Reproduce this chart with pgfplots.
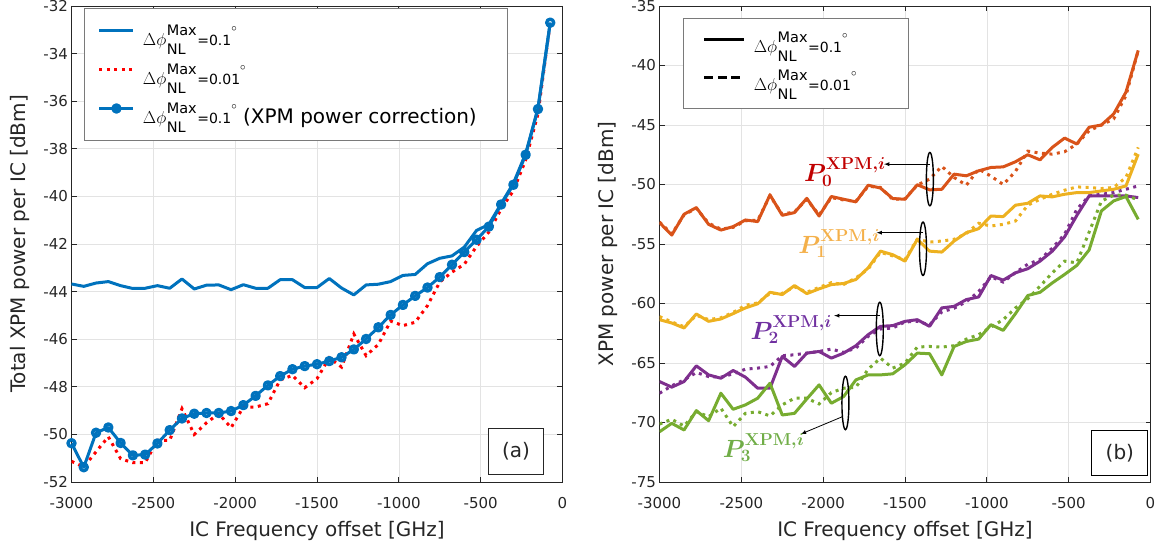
\documentclass[border=0pt]{standalone}
\usepackage[no-math]{fontspec}
\setmainfont{DejaVu Sans}
\usepackage{bm}
\usepackage{pgfplots}
\usepackage{pgfplotstable}
\pgfplotsset{compat=1.18}
\usetikzlibrary{shapes.geometric}

\definecolor{mblue}{HTML}{0072BD}
\definecolor{morange}{HTML}{D95319}
\definecolor{myellow}{HTML}{EDB120}
\definecolor{mpurple}{HTML}{7E2F8E}
\definecolor{mgreen}{HTML}{77AC30}
\definecolor{axgray}{HTML}{262626}
\definecolor{gridgray}{HTML}{E3E3E3}
\definecolor{legframe}{HTML}{7A7A7A}
\definecolor{lblred}{HTML}{C00000}
\definecolor{lblyellow}{HTML}{F4B04A}
\definecolor{lblpurple}{HTML}{7030A0}
\definecolor{lblgreen}{HTML}{70AD47}

\tikzset{myarrow/.style={line width=0.8pt, -latex},
  myell/.style={draw, ellipse, line width=1.4pt, inner sep=0pt, minimum width=7pt, minimum height=53.4pt}}

\newcommand{\dphi}[1]{%
  {\fontsize{18}{18}\selectfont$\Delta\phi$}%
  \kern0.5pt
  \rlap{\raisebox{-9pt}{\fontsize{14.5}{14.5}\selectfont NL}}%
  \raisebox{9.5pt}{\fontsize{14.5}{14.5}\selectfont Max}%
  \kern0.5pt
  {\fontsize{14}{14}\selectfont =#1}%
  \raisebox{14pt}{\fontsize{11}{11}\selectfont$\circ$}}
\newcommand{\plab}[1]{$\bm{P}^{\mathbf{XPM}\bm{,i}}_{\mathbf{#1}}$}

\pgfplotstableread{
x solid dotted corr
-3000 -43.68 -51.13 -50.37
-2925 -43.78 -51.37 -51.38
-2850 -43.64 -50.73 -49.93
-2775 -43.58 -50.10 -49.71
-2700 -43.75 -51.02 -50.36
-2625 -43.87 -51.19 -50.88
-2550 -43.86 -51.19 -50.85
-2475 -43.75 -50.25 -50.38
-2400 -43.86 -50.25 -49.82
-2325 -43.47 -48.92 -49.33
-2250 -43.89 -50.00 -49.13
-2175 -43.73 -49.51 -49.10
-2100 -43.72 -49.13 -49.10
-2025 -43.92 -49.72 -49.02
-1950 -43.71 -48.85 -48.77
-1875 -43.86 -48.85 -48.38
-1800 -43.86 -48.71 -47.94
-1725 -43.50 -47.71 -47.55
-1650 -43.50 -47.52 -47.26
-1575 -43.83 -48.04 -47.13
-1500 -43.83 -47.66 -47.05
-1425 -43.45 -46.78 -46.92
-1350 -43.85 -47.17 -46.76
-1275 -44.14 -45.78 -46.43
-1200 -43.72 -46.69 -45.99
-1125 -43.69 -46.22 -45.50
-1050 -43.58 -45.24 -44.98
-975 -43.32 -45.43 -44.56
-900 -43.28 -45.29 -44.18
-825 -42.83 -44.59 -43.83
-750 -42.60 -43.60 -43.39
-675 -42.50 -43.18 -42.87
-600 -42.13 -42.85 -42.34
-525 -41.43 -42.10 -41.82
-450 -41.18 -41.50 -41.27
-375 -40.31 -40.53 -40.34
-300 -39.45 -39.76 -39.51
-225 -38.20 -38.47 -38.25
-150 -36.30 -36.54 -36.33
-75 -32.70 -32.70 -32.70
}\lefttable

\pgfplotstableread{
x p0s p0d p1s p1d p2s p2d p3s p3d
-3000 -53.20 -53.15 -61.36 -61.10 -66.56 -67.54 -70.78 -70.13
-2925 -54.25 -54.15 -61.64 -61.55 -67.03 -66.92 -70.07 -69.73
-2850 -52.50 -52.55 -62.06 -61.95 -66.56 -66.42 -70.63 -70.30
-2775 -51.94 -52.00 -60.88 -61.00 -65.24 -65.80 -69.00 -69.09
-2700 -53.35 -53.25 -61.50 -61.35 -66.00 -66.14 -69.85 -69.51
-2625 -53.83 -53.75 -61.30 -61.20 -66.28 -66.19 -67.54 -68.80
-2550 -53.54 -53.60 -60.85 -60.75 -65.63 -65.91 -68.89 -70.35
-2475 -52.98 -53.05 -60.37 -60.15 -66.19 -65.52 -68.52 -69.23
-2400 -53.12 -53.00 -60.03 -59.95 -67.12 -65.43 -67.96 -69.09
-2325 -50.87 -50.95 -59.06 -59.15 -67.12 -65.29 -66.70 -69.45
-2250 -52.59 -52.50 -59.25 -59.15 -64.45 -64.39 -69.37 -68.52
-2175 -52.36 -52.30 -58.49 -58.60 -65.29 -64.31 -69.23 -67.96
-2100 -51.16 -51.25 -59.17 -59.05 -64.17 -64.17 -68.02 -67.96
-2025 -52.65 -52.55 -58.77 -58.65 -64.03 -64.03 -66.84 -68.44
-1950 -51.01 -51.10 -58.41 -58.25 -64.59 -63.83 -68.38 -67.49
-1875 -51.24 -51.30 -58.32 -58.40 -64.17 -64.11 -67.82 -67.12
-1800 -51.46 -51.40 -57.98 -57.85 -63.55 -63.74 -66.42 -67.04
-1725 -50.06 -50.15 -57.00 -57.10 -62.62 -62.76 -66.00 -65.52
-1650 -50.30 -50.25 -55.60 -55.70 -61.92 -62.14 -66.00 -64.59
-1575 -51.18 -51.25 -55.90 -56.00 -61.86 -62.06 -65.91 -65.43
-1500 -51.24 -51.20 -56.44 -56.30 -61.50 -61.55 -65.15 -65.01
-1425 -50.02 -50.05 -54.61 -54.60 -61.36 -61.50 -64.17 -63.66
-1350 -50.45 -49.55 -55.60 -54.84 -61.92 -61.80 -64.22 -63.61
-1275 -50.40 -48.48 -55.68 -54.75 -60.37 -60.70 -66.00 -63.66
-1200 -49.13 -49.41 -54.75 -54.61 -60.24 -60.40 -63.61 -63.55
-1125 -49.27 -50.06 -54.05 -54.11 -59.67 -59.85 -63.19 -62.99
-1050 -48.85 -48.70 -53.71 -53.26 -59.45 -59.00 -62.99 -62.62
-975 -48.57 -49.30 -52.65 -53.49 -57.65 -57.75 -61.78 -61.97
-900 -48.52 -50.00 -52.70 -53.35 -58.04 -58.20 -62.26 -61.36
-825 -48.09 -48.90 -51.74 -53.07 -57.42 -57.40 -60.85 -60.37
-750 -47.50 -47.20 -51.58 -51.74 -57.08 -56.70 -59.33 -59.61
-675 -47.93 -47.36 -50.96 -51.24 -56.44 -56.30 -59.06 -58.55
-600 -46.88 -47.45 -51.04 -50.82 -55.60 -55.35 -58.27 -57.42
-525 -46.10 -47.25 -50.82 -50.48 -54.40 -54.19 -57.56 -56.44
-450 -46.60 -46.60 -50.68 -50.20 -52.60 -52.08 -56.80 -56.58
-375 -45.19 -45.48 -50.68 -50.25 -50.96 -50.96 -55.50 -54.00
-300 -45.00 -45.00 -50.54 -50.34 -50.96 -50.82 -52.22 -51.40
-225 -44.07 -44.49 -50.40 -50.25 -50.96 -50.68 -51.38 -50.90
-150 -42.24 -42.53 -50.12 -49.41 -50.96 -50.40 -51.01 -50.90
-75 -38.73 -38.73 -47.45 -46.88 -51.10 -50.12 -52.93 -51.30
}\righttable

\pgfplotsset{
  myaxis/.style={
    scale only axis, width=491pt, height=476pt,
    xmin=-3000, xmax=0, xtick={-3000,-2500,...,0},
    grid=major, major grid style={gridgray, line width=0.6pt},
    axis line style={axgray, line width=0.9pt},
    tick style={axgray, line width=0.9pt},
    major tick length=5pt,
    tick align=inside,
    ticklabel style={font=\fontsize{15}{15}\selectfont, text=axgray},
    xticklabel style={yshift=-12pt},
    /pgf/number format/assume math mode=true,
    /pgf/number format/1000 sep={},
    every axis x label/.style={at={(axis description cs:0.5,-0.115)}, anchor=base},
    every axis y label/.style={at={(axis description cs:-0.1057,0.5)}, rotate=90, anchor=center},
    label style={font=\fontsize{20}{20}\selectfont, text=axgray},
    legend cell align=left,
    xlabel={IC Frequency offset [GHz]},
  },
  solidline/.style={line width=3pt, line join=round},
  dotline/.style={line width=3pt, dash pattern=on 3pt off 4.5pt},
}

\begin{document}
\begin{tikzpicture}
\useasboundingbox (0,0) rectangle (1163pt,548pt);

% ---------- (a) ----------
\begin{axis}[myaxis,
  at={(71.5pt,66pt)}, anchor=south west,
  ymin=-52, ymax=-32, ytick={-52,-50,...,-32},
  ylabel={Total XPM power per IC [dBm]},
  legend image code/.code={\path (0pt,5pt) (40pt,5pt);\draw[mark repeat=2,mark phase=2,#1] plot coordinates {(0pt,5pt) (17pt,5pt) (34pt,5pt)};},
  legend style={at={(axis description cs:0.0264,0.9958)}, anchor=north west,
    draw=legframe, line width=1pt, fill=white, font=\fontsize{20}{20}\selectfont,
    inner xsep=13pt, inner ysep=5pt, row sep=-5pt,
    nodes={text height=30pt, text depth=10pt}},
]
\addplot[mblue, solidline] table[x=x, y=solid] {\lefttable};
\addplot[red, dotline] table[x=x, y=dotted] {\lefttable};
\addplot[mblue, solidline, mark=o, mark size=3.5pt, mark options={solid, line width=3.4pt}] table[x=x, y=corr] {\lefttable};
\legend{{\dphi{0.1}},{\dphi{0.01}},{\makebox[350pt][l]{\dphi{0.1} (XPM power correction)}}}
\node[draw=axgray, line width=0.8pt, fill=white, minimum width=55pt, minimum height=46pt,
  font=\fontsize{20}{20}\selectfont, text=axgray] at (axis description cs:0.9055,0.064) {(a)};
\end{axis}

% ---------- (b) ----------
\begin{axis}[myaxis,
  at={(659.5pt,66pt)}, anchor=south west,
  ymin=-75, ymax=-35, ytick={-75,-70,...,-35},
  ylabel={XPM power per IC [dBm]},
  legend image code/.code={\path (0pt,5pt) (46pt,5pt);\draw[mark repeat=2,mark phase=2,#1] plot coordinates {(0pt,5pt) (20pt,5pt) (40pt,5pt)};},
  legend style={at={(axis description cs:0.0485,0.975)}, anchor=north west,
    draw=legframe, line width=1pt, fill=white, font=\fontsize{19}{19}\selectfont,
    inner xsep=19pt, inner ysep=4pt, row sep=-6pt,
    nodes={text height=28pt, text depth=12pt}},
]
\addlegendimage{black, line width=3pt}
\addlegendimage{black, line width=3pt, dash pattern=on 9pt off 4.5pt}
\addplot[morange, solidline] table[x=x, y=p0s] {\righttable};
\addplot[morange, dotline] table[x=x, y=p0d] {\righttable};
\addplot[myellow, solidline] table[x=x, y=p1s] {\righttable};
\addplot[myellow, dotline] table[x=x, y=p1d] {\righttable};
\addplot[mpurple, solidline] table[x=x, y=p2s] {\righttable};
\addplot[mpurple, dotline] table[x=x, y=p2d] {\righttable};
\addplot[mgreen, solidline] table[x=x, y=p3s] {\righttable};
\addplot[mgreen, dotline] table[x=x, y=p3d] {\righttable};
\legend{{\makebox[134pt][l]{\dphi{0.1}}},{\makebox[134pt][l]{\dphi{0.01}}}}

\node[myell] at (axis cs:-1348,-49.55) {};
\draw[myarrow] (axis cs:-1348,-48.29) -- (axis cs:-1628,-48.29);
\node[anchor=base west, inner sep=0pt, text=lblred, font=\fontsize{27}{27}\selectfont] at (axis cs:-2117,-49.78) {\plab{0}};

\node[myell] at (axis cs:-1390,-55.40) {};
\draw[myarrow] (axis cs:-1390,-54.05) -- (axis cs:-1673,-54.05);
\node[anchor=base west, inner sep=0pt, text=lblyellow, font=\fontsize{27}{27}\selectfont] at (axis cs:-2152,-55.79) {\plab{1}};

\node[myell] at (axis cs:-1654,-62.14) {};
\draw[myarrow] (axis cs:-1654,-61.02) -- (axis cs:-1933,-61.02);
\node[anchor=base west, inner sep=0pt, text=lblpurple, font=\fontsize{27}{27}\selectfont] at (axis cs:-2445,-63.04) {\plab{2}};

\node[myell] at (axis cs:-1864,-68.36) {};
\draw[myarrow] (axis cs:-1882,-69.51) -- (axis cs:-2136,-70.97);
\node[anchor=base west, inner sep=0pt, text=lblgreen, font=\fontsize{27}{27}\selectfont] at (axis cs:-2614,-72.94) {\plab{3}};

\node[draw=black, line width=0.8pt, fill=white, minimum width=56pt, minimum height=45pt,
  font=\fontsize{20}{20}\selectfont, text=axgray] at (axis description cs:0.9376,0.0603) {(b)};
\end{axis}
\end{tikzpicture}
\end{document}
